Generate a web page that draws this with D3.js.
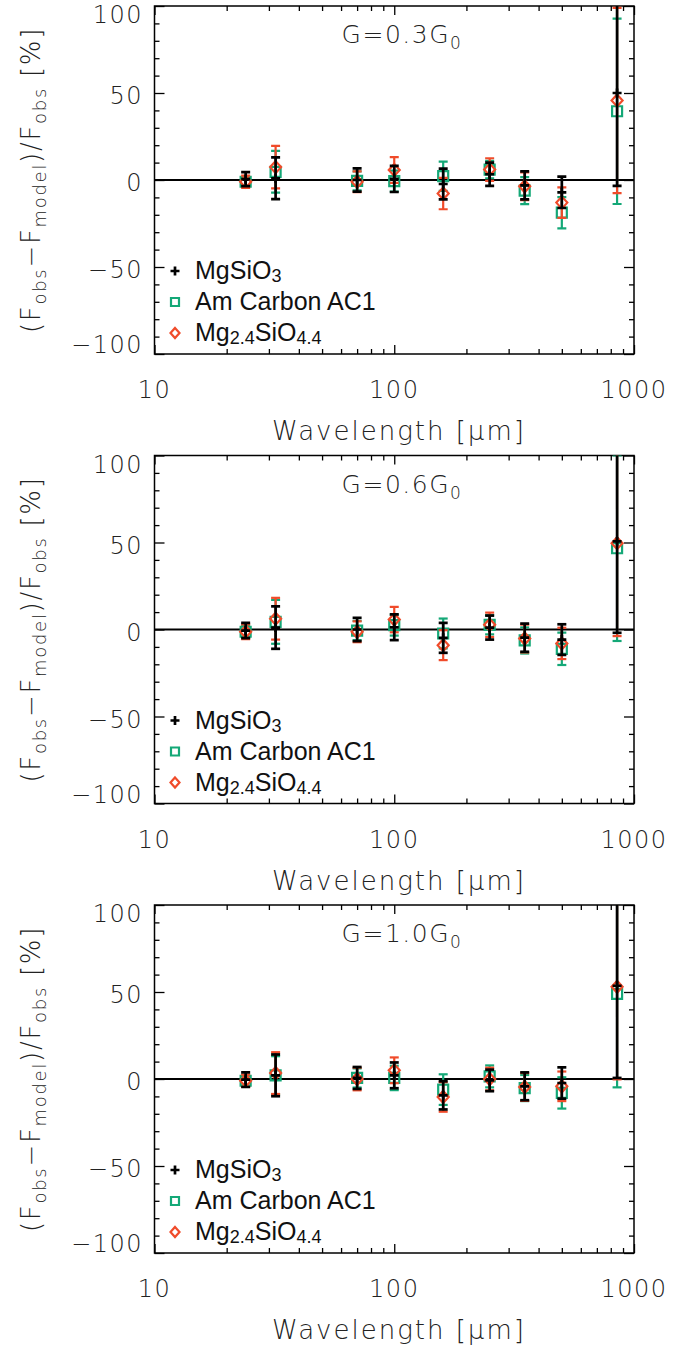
<!DOCTYPE html>
<html><head><meta charset="utf-8">
<script src="https://cdn.jsdelivr.net/npm/d3@7"></script>
<style>body{margin:0;background:#fff}</style>
</head><body>
<svg id="c" width="689" height="1345"></svg>
<script>
// ---- data ----
const wavelengths = [24, 32, 70, 100, 160, 250, 350, 500, 850];
const panelTitles = ["0.3", "0.6", "1.0"];
const seriesNames = ["MgSiO3", "Am Carbon AC1", "Mg2.4SiO4.4"];
const yTicks = [-100, -50, 0, 50, 100];
const xTicks = [10, 100, 1000];

// G = 0.3 G0
const mgsio3_03 = [0.5, 1, 0, 0.6, -2.3, 3.3, -3.1, -7.1, 50];
const mgsio3Err_03 = [4, 12, 6.7, 7.5, 8.8, 6.7, 8, 9, 53.4];
const amc_03 = [-1, 4.7, -0.5, -0.6, 2.2, 6, -6.1, -18.8, 39.5];
const amcErr_03 = [2.5, 12, 5.5, 6, 8.4, 5, 7.8, 9, 53.3];
const mg24_03 = [-1, 7.4, -1, 5.8, -7.8, 6, -3.6, -13, 45.7];
const mg24Err_03 = [3.5, 12.2, 6, 7.4, 9, 6.5, 8, 8.8, 53.2];

// G = 0.6 G0
const mgsio3_06 = [-0.6, 1.1, 0, 1.3, -4.8, 1.1, -4.7, -5.8, 50.6];
const mgsio3Err_06 = [4.4, 12.2, 6.7, 7.4, 8.6, 6.9, 8.1, 8.8, 52.5];
const amc_06 = [-1.3, 4.4, -0.6, 2.5, -2.3, 2.7, -6.3, -11.1, 46.7];
const amcErr_06 = [3.5, 12.6, 5.5, 6, 8.6, 5.5, 7.5, 9.3, 53.3];
const mg24_06 = [-1.3, 6.2, -1.3, 5.7, -9, 2.7, -5.2, -8, 49.6];
const mg24Err_06 = [4.3, 12, 6, 7.3, 8.6, 7, 8, 9, 53.4];

// G = 1.0 G0
const mgsio3_10 = [-0.4, 2.1, 0.6, 2.1, -9.4, -0.8, -4.2, -2.3, 53.6];
const mgsio3Err_10 = [4.2, 12, 6.3, 7.4, 8.1, 6.2, 8, 9, 53];
const amc_10 = [-1, 2.1, 0.6, 0.6, -6.1, 1.5, -5.2, -8, 48.9];
const amcErr_10 = [3, 11, 5.5, 7, 8.8, 6.3, 7.5, 9, 53.7];
const mg24_10 = [-1, 3.4, 0, 5, -10.3, 0, -4.6, -4.2, 53];
const mg24Err_10 = [3.5, 12, 6.5, 7.4, 8.5, 6.5, 8, 8.5, 53.2];

const panels = [
  {title: panelTitles[0], black: [mgsio3_03, mgsio3Err_03], green: [amc_03, amcErr_03], red: [mg24_03, mg24Err_03]},
  {title: panelTitles[1], black: [mgsio3_06, mgsio3Err_06], green: [amc_06, amcErr_06], red: [mg24_06, mg24Err_06]},
  {title: panelTitles[2], black: [mgsio3_10, mgsio3Err_10], green: [amc_10, amcErr_10], red: [mg24_10, mg24Err_10]}
];

// ---- style ----
const GREEN = "#14a877", RED = "#f04b2a";
const AXFONT = "'DejaVu Sans', sans-serif";
const LEGFONT = "'Liberation Sans', Arial, sans-serif";
const L = 154.5, R = 634, H = 348;
const svg = d3.select("#c");
svg.append("rect").attr("width", 689).attr("height", 1345).attr("fill", "#fff");

const x = d3.scaleLog().domain([10, 1000]).range([L, R]);
const minorX = [];
[10, 100].forEach(d => { for (let k = 2; k <= 9; k++) minorX.push(d * k); });
const minorY = d3.range(-90, 100, 10).filter(v => v % 50 !== 0);

panels.forEach((p, i) => {
  const top = 6 + i * 449.5, bot = top + H;
  const y = d3.scaleLinear().domain([-100, 100]).range([bot, top]);
  const g = svg.append("g");
  const clipId = "clip" + i;
  svg.append("clipPath").attr("id", clipId).append("rect")
    .attr("x", L).attr("y", top).attr("width", R - L).attr("height", H);

  // axes ticks (inward)
  const styleAxis = sel => { sel.select(".domain").remove(); sel.selectAll("line").attr("stroke", "#000").attr("stroke-width", 1.3); sel.selectAll("text").remove(); };
  g.append("g").attr("transform", `translate(0,${bot})`).call(d3.axisBottom(x).tickValues(xTicks).tickSize(-9)).call(styleAxis);
  g.append("g").attr("transform", `translate(0,${bot})`).call(d3.axisBottom(x).tickValues(minorX).tickSize(-5)).call(styleAxis);
  g.append("g").attr("transform", `translate(0,${top})`).call(d3.axisTop(x).tickValues(xTicks).tickSize(-9)).call(styleAxis);
  g.append("g").attr("transform", `translate(0,${top})`).call(d3.axisTop(x).tickValues(minorX).tickSize(-5)).call(styleAxis);
  g.append("g").attr("transform", `translate(${L},0)`).call(d3.axisLeft(y).tickValues(yTicks).tickSize(-10)).call(styleAxis);
  g.append("g").attr("transform", `translate(${L},0)`).call(d3.axisLeft(y).tickValues(minorY).tickSize(-5)).call(styleAxis);
  g.append("g").attr("transform", `translate(${R},0)`).call(d3.axisRight(y).tickValues(yTicks).tickSize(-10)).call(styleAxis);
  g.append("g").attr("transform", `translate(${R},0)`).call(d3.axisRight(y).tickValues(minorY).tickSize(-5)).call(styleAxis);

  // frame
  g.append("rect").attr("x", L).attr("y", top).attr("width", R - L).attr("height", H)
    .attr("fill", "none").attr("stroke", "#000").attr("stroke-width", 1.5);

  // tick labels
  g.selectAll(".xl").data(xTicks).join("text")
    .attr("x", d => x(d)).attr("y", bot + 44).attr("text-anchor", "middle")
    .attr("font-family", AXFONT).attr("font-weight", 200).attr("font-size", 24).attr("letter-spacing", 1.5)
    .attr("fill", "#222")
    .text(d => d);
  g.selectAll(".yl").data(yTicks).join("text")
    .attr("x", 143).attr("y", d => Math.min(Math.max(y(d) + 11, top + 17), bot - 1))
    .attr("text-anchor", "end")
    .attr("font-family", AXFONT).attr("font-weight", 200).attr("font-size", 24).attr("letter-spacing", 1.5)
    .attr("fill", "#222")
    .text(d => d3.format("d")(d).replace("-", "\u2212"));

  // x title
  g.append("text").attr("x", 399).attr("y", bot + 86).attr("text-anchor", "middle")
    .attr("font-family", AXFONT).attr("font-weight", 200).attr("font-size", 26).attr("letter-spacing", 2)
    .attr("fill", "#222")
    .text("Wavelength  [\u03bcm]");

  // y title
  const yt = g.append("text").attr("transform", `translate(40,${(top + bot) / 2}) rotate(-90)`)
    .attr("text-anchor", "middle")
    .attr("font-family", AXFONT).attr("font-weight", 200).attr("font-size", 26).attr("letter-spacing", 1.7)
    .attr("fill", "#222");
  const parts = [["(F", 0], ["obs", 1], ["\u2212F", 0], ["model", 1], [")/F", 0], ["obs", 1], ["  [%]", 0]];
  let prevSub = 0;
  parts.forEach(([t, sub]) => {
    const ts = yt.append("tspan").text(t);
    if (sub) { ts.attr("font-size", 18).attr("dy", prevSub ? 0 : 6); }
    else { ts.attr("dy", prevSub ? -6 : 0); }
    prevSub = sub;
  });

  // panel title
  const tt = g.append("text").attr("x", 402).attr("y", top + 37).attr("text-anchor", "middle")
    .attr("font-family", AXFONT).attr("font-weight", 200).attr("font-size", 25).attr("letter-spacing", 1.5)
    .attr("fill", "#222");
  tt.append("tspan").text("G=" + p.title + "G");
  tt.append("tspan").text("0").attr("font-size", 17).attr("dy", 6);

  // zero line
  g.append("line").attr("x1", L).attr("x2", R).attr("y1", y(0)).attr("y2", y(0))
    .attr("stroke", "#000").attr("stroke-width", 2);

  // data
  const dg = g.append("g").attr("clip-path", `url(#${clipId})`);
  const drawSeries = (vals, errs, color, sw, marker) => {
    const s = dg.append("g");
    const pts = wavelengths.map((w, j) => ({w, v: vals[j], e: errs[j]}));
    s.selectAll(".eb").data(pts).join("line")
      .attr("x1", d => x(d.w)).attr("x2", d => x(d.w))
      .attr("y1", d => y(d.v - d.e)).attr("y2", d => y(d.v + d.e))
      .attr("stroke", color).attr("stroke-width", sw);
    ["lo", "hi"].forEach(k => {
      s.selectAll(".cap" + k).data(pts).join("line")
        .attr("x1", d => x(d.w) - 4.5).attr("x2", d => x(d.w) + 4.5)
        .attr("y1", d => y(k === "lo" ? d.v - d.e : d.v + d.e))
        .attr("y2", d => y(k === "lo" ? d.v - d.e : d.v + d.e))
        .attr("stroke", color).attr("stroke-width", sw);
    });
    s.selectAll(".mk").data(pts).join("path")
      .attr("transform", d => `translate(${x(d.w)},${y(d.v)})`)
      .attr("d", marker).attr("fill", "none").attr("stroke", color).attr("stroke-width", sw);
  };
  const SQ = "M-5,-5H5V5H-5Z";
  const DM = "M0,-6L5.5,0L0,6L-5.5,0Z";
  const PL = "M-4.5,0H4.5M0,-4.5V4.5";
  drawSeries(p.green[0], p.green[1], GREEN, 2.2, SQ);
  drawSeries(p.red[0], p.red[1], RED, 2.2, DM);
  drawSeries(p.black[0], p.black[1], "#000", 2.7, PL);

  // legend
  const lg = g.append("g");
  const rows = [
    {y: top + 273, mk: PL, c: "#000", sw: 2.7, parts: [["MgSiO", 0], ["3", 1]]},
    {y: top + 304, mk: "M-4,-4H4V4H-4Z", c: GREEN, sw: 2.2, parts: [["Am Carbon AC1", 0]]},
    {y: top + 335, mk: "M0,-5L4.5,0L0,5L-4.5,0Z", c: RED, sw: 2.2, parts: [["Mg", 0], ["2.4", 1], ["SiO", 0], ["4.4", 1]]}
  ];
  rows.forEach(r => {
    lg.append("path").attr("transform", `translate(175,${r.y - 8})`).attr("d", r.mk)
      .attr("fill", "none").attr("stroke", r.c).attr("stroke-width", r.sw);
    const t = lg.append("text").attr("x", 195).attr("y", r.y)
      .attr("font-family", LEGFONT).attr("font-size", 25).attr("fill", "#111");
    let ps = 0;
    r.parts.forEach(([s, sub]) => {
      const ts = t.append("tspan").text(s);
      if (sub) ts.attr("font-size", 18).attr("dy", ps ? 0 : 3);
      else ts.attr("dy", ps ? -3 : 0);
      ps = sub;
    });
  });
});
</script>
</body></html>
